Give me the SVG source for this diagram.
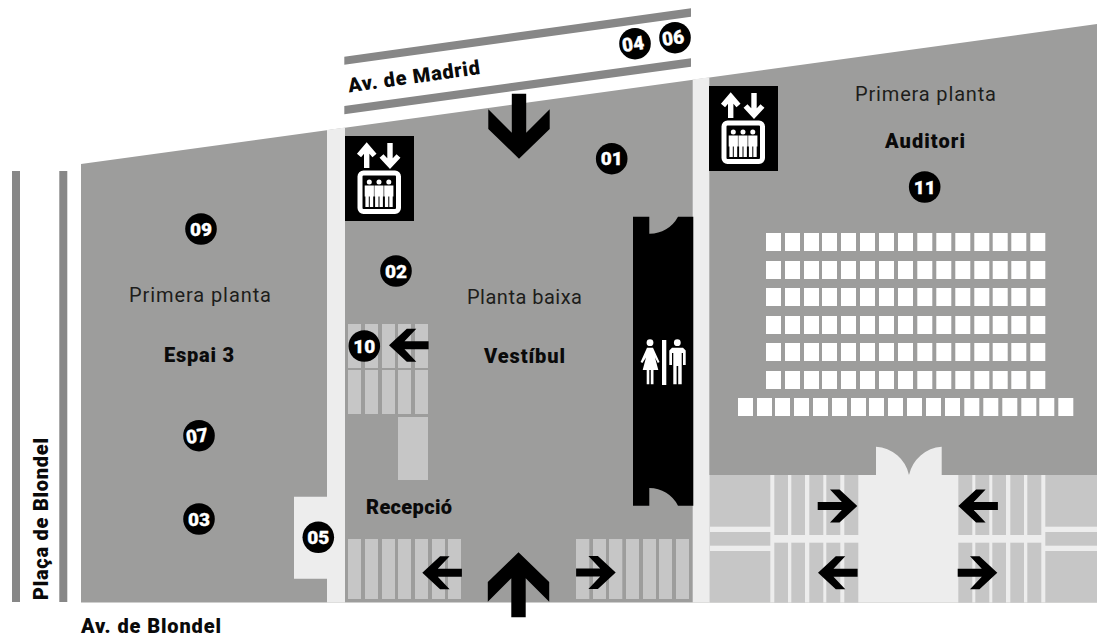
<svg xmlns="http://www.w3.org/2000/svg" width="1097" height="638" viewBox="0 0 1097 638">
<style>
text{font-family:Roboto,"Liberation Sans",sans-serif;fill:#1d1d1b}
.b{font-weight:900;font-size:20px;fill:#0a0a0a}
.r{font-weight:400;font-size:20px}
.m{text-anchor:middle}
.n{font-weight:900;font-size:19px;fill:#fff;text-anchor:middle;stroke:#fff;stroke-width:.3}
.road{fill:#878787}
.hall{fill:#9d9d9c}
.pale{fill:#ededed}
.st{fill:#c6c6c6}
.seat{fill:#fff}
.k{fill:#000}
.w{fill:#fff}
.ws{fill:none;stroke:#fff;stroke-width:5.4}
</style>
<defs>
<path id="arrS" d="M-39.6-4H-15.5L-27.3-16.5H-17.8L0 0-17.8 16.5H-27.3L-15.5 4H-39.6Z"/>
<path id="arrB" d="M0 0 30.7 29.8V49.4L7.2 26V65H-7.2V26L-30.7 49.4V29.8Z"/>
<g id="stripes5">
<rect class="st" x="348" width="13" height="44"/><rect class="st" x="365" width="13" height="44"/><rect class="st" x="382" width="13" height="44"/><rect class="st" x="398" width="13" height="44"/><rect class="st" x="415" width="13" height="44"/>
</g>
<g id="stripesL">
<rect class="st" x="774.3" width="13.7" height="60"/><rect class="st" x="791.3" width="13.7" height="60"/><rect class="st" x="809.3" width="14" height="60"/><rect class="st" x="826.3" width="14" height="60"/><rect class="st" x="844.3" width="14" height="60"/>
<rect class="st" x="958.3" width="14" height="60"/><rect class="st" x="975.3" width="14" height="60"/><rect class="st" x="992.3" width="13.7" height="60"/><rect class="st" x="1010.3" width="13.7" height="60"/><rect class="st" x="1027.3" width="14" height="60"/>
</g>
<g id="row15">
<rect class="seat" x="766" width="15" height="18"/><rect class="seat" x="785" width="15" height="18"/><rect class="seat" x="804" width="15" height="18"/><rect class="seat" x="822" width="15" height="18"/><rect class="seat" x="841" width="15" height="18"/><rect class="seat" x="860" width="15" height="18"/><rect class="seat" x="879" width="15" height="18"/><rect class="seat" x="898" width="15" height="18"/><rect class="seat" x="917.3" width="15" height="18"/><rect class="seat" x="936.3" width="15" height="18"/><rect class="seat" x="955.3" width="15" height="18"/><rect class="seat" x="974.3" width="15" height="18"/><rect class="seat" x="992.7" width="15" height="18"/><rect class="seat" x="1011.3" width="15" height="18"/><rect class="seat" x="1030.3" width="15" height="18"/>
</g>
<path id="person" d="M-2.5 0A2.5 2.5 0 1 1 2.5 0 2.5 2.5 0 1 1-2.5 0ZM-4.6 3.4H4.6V14.5H3.9V25H.5V14.5H-.5V25H-3.9V14.5H-4.6Z"/>
<g id="lift">
<rect class="k" width="69" height="85"/>
<path class="ws" d="M21.7 32V10.5M14 19.5 21.7 10.5 29.5 19.5M45 7V29M36.5 20 45 29 53.5 20"/>
<rect x="15" y="37" width="38.5" height="38.5" rx="3.5" fill="none" stroke="#fff" stroke-width="5"/>
<use class="w" href="#person" x="24.3" y="46"/>
<use class="w" href="#person" x="34" y="46"/>
<use class="w" href="#person" x="43.8" y="46"/>
</g>
</defs>

<g id="streets">
<polygon class="road" points="344.3,56.7 691,8.3 691,16.7 344.3,64.7"/>
<polygon class="road" points="344.3,106 691,58.3 691,66.7 344.3,114.3"/>
<rect class="road" x="12" y="171" width="8" height="431"/>
<rect class="road" x="59.3" y="171" width="8" height="431"/>
<text class="b" transform="translate(349 92.5) rotate(-8)" textLength="133">Av. de Madrid</text>
<text class="b" transform="translate(47.5 600) rotate(-90)" textLength="162">Plaça de Blondel</text>
<text class="b" x="81" y="633" textLength="140">Av. de Blondel</text>
</g>

<g id="building">
<polygon class="hall" points="81,164 1097,24 1097,602.5 81,602.5"/>
<polygon class="pale" points="327,130.1 345,127.6 345,602.5 327,602.5 327,578.7 294,578.7 294,496.7 327,496.7"/>
<polygon class="pale" points="692.7,79.6 709.3,77.3 709.3,602.5 692.7,602.5"/>
</g>

<g id="vestibul">
<use href="#stripes5" y="324"/>
<use href="#stripes5" y="370"/>
<rect class="st" x="398" y="417" width="30" height="63"/>
<g>
<rect class="st" x="348" y="539" width="13" height="60"/><rect class="st" x="365" y="539" width="13" height="60"/><rect class="st" x="382" y="539" width="13" height="60"/><rect class="st" x="398" y="539" width="13" height="60"/><rect class="st" x="415" y="539" width="13" height="60"/><rect class="st" x="432" y="539" width="13" height="60"/><rect class="st" x="448" y="539" width="13" height="60"/>
<rect class="st" x="576" y="539" width="13.3" height="60"/><rect class="st" x="593" y="539" width="13" height="60"/><rect class="st" x="609" y="539" width="13.3" height="60"/><rect class="st" x="626" y="539" width="13" height="60"/><rect class="st" x="643" y="539" width="13" height="60"/><rect class="st" x="659" y="539" width="13" height="60"/><rect class="st" x="676" y="539" width="13" height="60"/>
</g>
<text class="r" x="467" y="304" textLength="115">Planta baixa</text>
<text class="b" x="484" y="363" textLength="81">Vestíbul</text>
<text class="b" x="366" y="514" textLength="86">Recepció</text>
</g>

<g id="espai3">
<text class="r" x="129" y="302" textLength="142">Primera planta</text>
<text class="b" x="164" y="362" textLength="70">Espai 3</text>
</g>

<g id="wc">
<path class="k" d="M633 216.7H649.3V233.7A32 32 0 0 0 678 216.7H693.3V505.7H678A32 32 0 0 0 649.3 488V505.7H633Z"/>
<circle class="w" cx="650" cy="342.7" r="3.4"/>
<path class="w" d="M647 347.7H653L659.5 362 657.8 363 655 357.5 658.3 370H653.5V384.3H650.8V370H649.3V384.3H646.7V370H642.7L646 357.5 642.4 363 640.6 362Z"/>
<rect class="w" x="662" y="340" width="4.3" height="45"/>
<circle class="w" cx="677.3" cy="342.7" r="3.4"/>
<path class="w" d="M672 347.7H683L685.7 350.5V365H683V353H681.7V384.3H678.2V366H676.6V384.3H673.3V353H672V365H669.3V350.5Z"/>
</g>

<g id="auditori">
<rect class="pale" x="709.3" y="475" width="387.7" height="127.5"/>
<path class="pale" d="M876 475V446.7A36 36 0 0 1 909 475 36 36 0 0 1 941.7 446.7V475Z"/>
<rect class="st" x="710" y="475" width="60.3" height="51.7"/><rect class="st" x="710" y="532" width="60.3" height="13.7"/><rect class="st" x="710" y="551" width="60.3" height="51.5"/>
<rect class="st" x="1045.3" y="475" width="51.7" height="51.7"/><rect class="st" x="1045.3" y="532" width="51.7" height="13.7"/><rect class="st" x="1045.3" y="551" width="51.7" height="51.5"/>
<use href="#stripesL" y="475"/>
<use href="#stripesL" y="542.7"/>
<use href="#row15" y="233"/><use href="#row15" y="261"/><use href="#row15" y="288"/><use href="#row15" y="316"/><use href="#row15" y="343"/><use href="#row15" y="371"/>
<g>
<rect class="seat" x="738" y="398" width="15" height="18"/><rect class="seat" x="757" y="398" width="15" height="18"/><rect class="seat" x="775" y="398" width="15" height="18"/><rect class="seat" x="794" y="398" width="15" height="18"/><rect class="seat" x="813" y="398" width="15" height="18"/><rect class="seat" x="832" y="398" width="15" height="18"/><rect class="seat" x="851" y="398" width="15" height="18"/><rect class="seat" x="869" y="398" width="15" height="18"/><rect class="seat" x="888" y="398" width="15" height="18"/><rect class="seat" x="907" y="398" width="15" height="18"/><rect class="seat" x="926" y="398" width="15" height="18"/><rect class="seat" x="945" y="398" width="15" height="18"/><rect class="seat" x="964.3" y="398" width="15" height="18"/><rect class="seat" x="983.3" y="398" width="15" height="18"/><rect class="seat" x="1002.3" y="398" width="15" height="18"/><rect class="seat" x="1021.3" y="398" width="15" height="18"/><rect class="seat" x="1039.3" y="398" width="15" height="18"/><rect class="seat" x="1058.3" y="398" width="15" height="18"/>
</g>
<text class="r" x="855" y="101" textLength="141">Primera planta</text>
<text class="b" x="885" y="148" textLength="80">Auditori</text>
</g>

<g id="lifts">
<use href="#lift" x="345" y="136"/>
<use href="#lift" x="709" y="86"/>
</g>

<g id="connectors">
<use href="#arrB" transform="translate(519 158.7) rotate(180)"/>
<use href="#arrB" transform="translate(518.5 552.3)"/>
<use href="#arrS" transform="translate(389 345.3) rotate(180)"/>
<use href="#arrS" transform="translate(422.3 572.7) rotate(180)"/>
<use href="#arrS" x="615.7" y="572.5"/>
<use href="#arrS" x="857.3" y="506"/>
<use href="#arrS" transform="translate(958.3 506) rotate(180)"/>
<use href="#arrS" transform="translate(818 572.7) rotate(180)"/>
<use href="#arrS" x="997.3" y="572.7"/>
</g>

<g id="badge-01"><circle cx="611.7" cy="158.7" r="15.8"/><text class="n" x="611.7" y="165.4">01</text></g>
<g id="badge-02"><circle cx="396" cy="271" r="15.8"/><text class="n" x="396" y="277.7">02</text></g>
<g id="badge-03"><circle cx="199" cy="519" r="15.8"/><text class="n" x="199" y="525.7">03</text></g>
<g id="badge-04"><circle cx="635" cy="43.7" r="15.8"/><text class="n" transform="translate(634 50.5) rotate(-8)">04</text></g>
<g id="badge-05"><circle cx="318.3" cy="537.3" r="15.8"/><text class="n" x="318.3" y="544">05</text></g>
<g id="badge-06"><circle cx="675" cy="37.7" r="15.8"/><text class="n" transform="translate(674 44.5) rotate(-8)">06</text></g>
<g id="badge-07"><circle cx="199" cy="435.7" r="15.8"/><text class="n" transform="translate(198 442.5) rotate(-8)">07</text></g>
<g id="badge-09"><circle cx="201" cy="229" r="15.8"/><text class="n" x="201" y="235.7">09</text></g>
<g id="badge-10"><circle cx="364.3" cy="346" r="15.8"/><text class="n" x="364.3" y="352.7">10</text></g>
<g id="badge-11"><circle cx="924.7" cy="187" r="15.8"/><text class="n" x="924.7" y="193.7">11</text></g>
</svg>
